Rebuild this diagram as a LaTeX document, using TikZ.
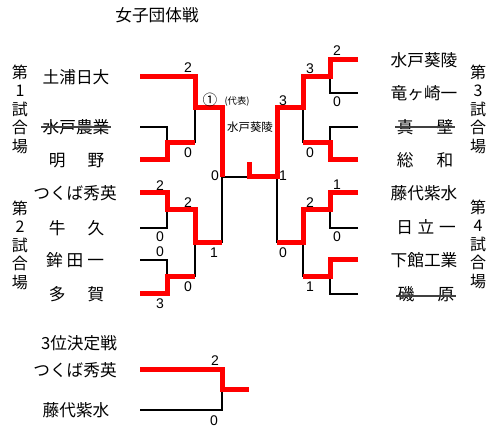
\documentclass[tikz,border=0pt]{standalone}
\usepackage{fontspec}
\setmainfont{Liberation Sans}
\newfontfamily\jp{Noto Sans CJK JP}
\begin{document}
\begin{tikzpicture}[x=0.75pt,y=-0.75pt,
  team/.style={font=\jp\fontsize{12.5pt}{14pt}\selectfont, inner sep=0pt, anchor=center},
  venue/.style={font=\jp\fontsize{12pt}{13.9pt}\selectfont, align=center, inner sep=0pt},
  score/.style={font=\fontsize{10.5pt}{12pt}\selectfont, inner sep=0pt},
  winline/.style={red, line width=3.75pt, line join=miter, line cap=butt},
  loseline/.style={black, line width=1.1pt},
  strike/.style={draw=black!75, line width=1pt}]
\useasboundingbox (0,0) rectangle (500,434);

% title
\node[team] (title) at (157,15) {女子団体戦};

% venue labels
\node[venue] (v1) at (20,109) {第\\1\\試\\合\\場};
\node[venue] (v2) at (20,245) {第\\2\\試\\合\\場};
\node[venue] (v3) at (478,109) {第\\3\\試\\合\\場};
\node[venue] (v4) at (478,244) {第\\4\\試\\合\\場};

% left teams
\node[team] (tl1) at (76,77) {土浦日大};
\node[team] (tl2) at (76,127) {水戸農業};
\node[team] (tl3) at (76.5,161) {明\hspace{16.5pt}野};
\node[team] (tl4) at (75,193) {つくば秀英};
\node[team] (tl5) at (76.5,228) {牛\hspace{16.5pt}久};
\node[team] (tl6) at (75,260) {鉾\hspace{3pt}田\hspace{3pt}一};
\node[team] (tl7) at (76.5,294) {多\hspace{16.5pt}賀};

% right teams
\node[team] (tr1) at (424,60) {水戸葵陵};
\node[team] (tr2) at (424,93) {竜ヶ崎一};
\node[team] (tr3) at (425,127) {真\hspace{17.25pt}壁};
\node[team] (tr4) at (425,160) {総\hspace{17.25pt}和};
\node[team] (tr5) at (424,193) {藤代紫水};
\node[team] (tr6) at (426,227) {日\hspace{3.5pt}立\hspace{3.5pt}一};
\node[team] (tr7) at (424,260) {下館工業};
\node[team] (tr8) at (426,294) {磯\hspace{17.25pt}原};

% strikethroughs
\draw[strike] ([xshift=-1pt]tl2.west) -- ([xshift=1pt]tl2.east);
\draw[strike] ([xshift=-1pt]tr3.west) -- ([xshift=1pt]tr3.east);
\draw[strike] ([xshift=-1pt,yshift=-1.5pt]tr8.west) -- ([xshift=1pt,yshift=-1.5pt]tr8.east);

% third place
\node[team] (third) at (79,343) {3位決定戦};
\node[team] (p1) at (75,370) {つくば秀英};
\node[team] (p2) at (76,410) {藤代紫水};

% coordinates - left
\coordinate (a1) at (140,77);
\coordinate (a2) at (140,127);
\coordinate (a3) at (140,160);
\coordinate (a4) at (140,193);
\coordinate (a5) at (140,228);
\coordinate (a6) at (140,260);
\coordinate (a7) at (140,294);
\coordinate (j1) at (167,143);
\coordinate (j2) at (195,108);
\coordinate (j3) at (167,210);
\coordinate (j4) at (167,277);
\coordinate (j5) at (195,243);
\coordinate (sl) at (222,177);
% right
\coordinate (b1) at (358,60);
\coordinate (b2) at (358,93);
\coordinate (b3) at (358,127);
\coordinate (b4) at (358,160);
\coordinate (b5) at (358,193);
\coordinate (b6) at (358,228);
\coordinate (b7) at (358,260);
\coordinate (b8) at (358,294);
\coordinate (k1) at (330,77);
\coordinate (k2) at (330,143);
\coordinate (k3) at (303,108);
\coordinate (k4) at (330,210);
\coordinate (k5) at (330,277);
\coordinate (k6) at (303,243);
\coordinate (sr) at (277,177);
\coordinate (champ) at (249,162);
\coordinate (mid) at (249,177);
% third place
\coordinate (c1) at (140,370);
\coordinate (c2) at (140,410);
\coordinate (c3) at (222,390);
\coordinate (c4) at (249,390);

% losing lines
\draw[loseline] (a2) -| (j1);
\draw[loseline] (j1 -| j2) -- (j2);
\draw[loseline] (a5) -| (j3);
\draw[loseline] (a6) -| (j4);
\draw[loseline] (j4 -| j5) -- (j5);
\draw[loseline] (j5 -| sl) -- (sl);
\draw[loseline] (sl) -- (mid);
\draw[loseline] (b2) -| (k1);
\draw[loseline] (b3) -| (k2);
\draw[loseline] (k2 -| k3) -- (k3);
\draw[loseline] (b6) -| (k4);
\draw[loseline] (b8) -| (k5);
\draw[loseline] (k5 -| k6) -- (k6);
\draw[loseline] (k6 -| sr) -- (sr);
\draw[loseline] (c2) -| (c3);

% winning lines
\draw[winline] (a1) -| (j2) -| (sl);
\draw[winline] (a3) -| (j1) -- (j1 -| j2);
\draw[winline] (a4) -| (j3) -| (j5) -- (j5 -| sl);
\draw[winline] (a7) -| (j4) -- (j4 -| j5);
\draw[winline] (b1) -| (k1) -| (k3) -| (sr) -| (champ);
\draw[winline] (b4) -| (k2) -- (k2 -| k3);
\draw[winline] (b5) -| (k4) -| (k6) -- (k6 -| sr);
\draw[winline] (b7) -| (k5) -- (k5 -| k6);
\draw[winline] (c1) -| (c3) -- (c4);

% center labels
\node[font=\jp\fontsize{11pt}{12pt}\selectfont, inner sep=0pt] (circ) at (210,100) {①};
\node[font=\jp\fontsize{7pt}{8pt}\selectfont, inner sep=0pt] (rep) at (237,101) {(代表)};
\node[font=\jp\fontsize{8.6pt}{10pt}\selectfont, inner sep=0pt] (winner) at (250,127) {水戸葵陵};

% scores left
\node[score] (s1) at (188,68) {2};
\node[score] (s2) at (188,153) {0};
\node[score] (s3) at (215,176) {0};
\node[score] (s4) at (160,186) {2};
\node[score] (s5) at (160,237) {0};
\node[score] (s6) at (188,203) {2};
\node[score] (s7) at (214,253) {1};
\node[score] (s8) at (160,252) {0};
\node[score] (s9) at (188,287) {0};
\node[score] (s10) at (160,304) {3};
% scores right
\node[score] (r1) at (337,51) {2};
\node[score] (r2) at (310,69) {3};
\node[score] (r3) at (283,101) {3};
\node[score] (r4) at (337,102) {0};
\node[score] (r5) at (310,153) {0};
\node[score] (r6) at (283,176) {1};
\node[score] (r7) at (337,185) {1};
\node[score] (r8) at (310,203) {2};
\node[score] (r9) at (337,237) {0};
\node[score] (r10) at (283,253) {0};
\node[score] (r11) at (310,287) {1};
% third place scores
\node[score] (t1) at (215,361) {2};
\node[score] (t2) at (214,421) {0};
\end{tikzpicture}
\end{document}
